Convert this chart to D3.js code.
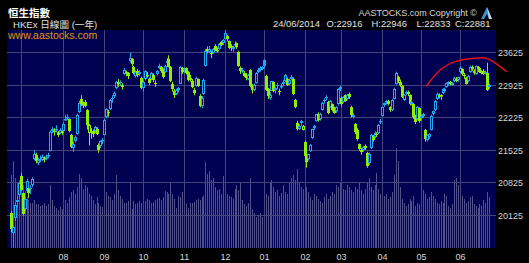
<!DOCTYPE html>
<html>
<head>
<meta charset="utf-8">
<script src="https://cdn.jsdelivr.net/npm/d3@7"></script>
<style>
  html, body { margin: 0; padding: 0; background: #000; }
  svg { display: block; }
  text { font-family: Arial, "Liberation Sans", "Noto Sans CJK TC", sans-serif; }
</style>
</head>
<body>
<svg id="chart" width="529" height="263"></svg>
<script>
// daily candles: [open, high, low, close, turnover (HK$ bn)]
const jun13 = [
  [20160, 20200, 19750, 19813, 83], [19720, 19890, 19426, 19855, 99], [20050, 20390, 19990, 20338, 80],
  [20390, 20520, 20290, 20440, 75], [20560, 20830, 20480, 20803, 78],
];
const jul13 = [
  [20950, 21030, 20640, 20659, 80], [20590, 20600, 20110, 20147, 72], [20250, 20500, 20200, 20468, 65],
  [20640, 20900, 20600, 20855, 58], [20690, 20700, 20490, 20582, 55], [20690, 20760, 20570, 20684, 52],
  [20760, 20930, 20720, 20905, 52], [21320, 21520, 21300, 21437, 55], [21420, 21460, 21230, 21277, 50],
  [21250, 21350, 21190, 21303, 50], [21330, 21400, 21260, 21312, 48], [21300, 21420, 21280, 21372, 49],
  [21330, 21380, 21250, 21345, 52], [21340, 21420, 21300, 21362, 48], [21380, 21460, 21340, 21416, 50],
  [21500, 21940, 21490, 21916, 72], [21930, 22010, 21880, 21968, 55], [21920, 21990, 21830, 21900, 48],
  [21960, 22050, 21900, 21968, 46], [21900, 21930, 21800, 21851, 44], [21890, 21990, 21860, 21953, 47],
  [21920, 21960, 21840, 21883, 45],
];
const aug13 = [
  [21930, 22110, 21900, 22089, 50], [22180, 22280, 22150, 22190, 55], [22200, 22290, 22160, 22222, 52],
  [22180, 22200, 21900, 21923, 58], [21850, 21870, 21560, 21588, 64], [21560, 21700, 21480, 21655, 66],
  [21720, 21830, 21680, 21808, 62], [21860, 22300, 21850, 22271, 70], [22330, 22580, 22310, 22541, 85],
  [22620, 22700, 22470, 22519, 80], [22480, 22560, 22420, 22518, 68], [22560, 22600, 22440, 22463, 72],
  [22380, 22400, 21960, 22050, 70], [21880, 22080, 21620, 22048, 62], [21920, 21990, 21760, 21896, 60],
  [21920, 21960, 21800, 21863, 55], [21920, 22040, 21880, 22005, 50], [21980, 22010, 21840, 21874, 58],
  [21630, 21660, 21460, 21524, 52], [21600, 21730, 21560, 21704, 48], [21730, 21780, 21640, 21731, 47],
];
const sep13 = [
  [21850, 22190, 21840, 22175, 55], [22220, 22420, 22200, 22395, 64], [22330, 22380, 22240, 22326, 60],
  [22400, 22620, 22380, 22597, 58], [22640, 22700, 22540, 22621, 55], [22680, 22780, 22640, 22750, 62],
  [22850, 23010, 22830, 22977, 84], [22990, 23050, 22880, 22938, 66], [22980, 23020, 22900, 22954, 60],
  [22880, 22960, 22820, 22915, 56], [23160, 23290, 23140, 23252, 52], [23200, 23230, 23110, 23180, 52],
  [23180, 23200, 23050, 23117, 54], [23430, 23620, 23400, 23502, 76], [23480, 23500, 23320, 23371, 45],
  [23300, 23330, 23150, 23179, 54], [23120, 23240, 23080, 23209, 50], [23230, 23260, 23090, 23126, 52],
  [23150, 23240, 23110, 23207, 54], [23080, 23100, 22830, 22860, 52],
];
const oct13 = [
  [22850, 23020, 22780, 22984, 55], [23050, 23240, 23020, 23214, 54], [23120, 23200, 23080, 23139, 56],
  [23060, 23080, 22920, 22974, 55], [23050, 23200, 23020, 23178, 52], [23130, 23170, 22980, 23033, 53],
  [22960, 23020, 22880, 22952, 55], [23150, 23240, 23120, 23218, 56], [23290, 23380, 23260, 23336, 57],
  [23300, 23330, 23180, 23228, 55], [23250, 23280, 23060, 23095, 58], [23200, 23360, 23180, 23340, 65],
  [23400, 23500, 23380, 23438, 64], [23480, 23560, 23300, 23315, 62], [23300, 23330, 22980, 22999, 76],
  [22950, 22990, 22780, 22836, 62], [22790, 22830, 22640, 22698, 56], [22730, 22840, 22700, 22806, 46],
  [22820, 22880, 22760, 22846, 60], [22950, 23330, 22940, 23304, 58], [23290, 23310, 23160, 23206, 64],
];
const nov13 = [
  [23260, 23300, 23180, 23250, 48], [23280, 23300, 23150, 23189, 50], [23200, 23220, 23000, 23038, 46],
  [23080, 23140, 22990, 23037, 52], [23010, 23050, 22850, 22881, 51], [22820, 22860, 22700, 22744, 53],
  [22900, 23100, 22880, 23069, 55], [23040, 23060, 22880, 22902, 56], [22680, 22720, 22440, 22463, 55],
  [22470, 22680, 22420, 22649, 58], [22730, 23060, 22710, 23032, 60], [23330, 23700, 23320, 23660, 98],
  [23700, 23750, 23600, 23657, 85], [23640, 23760, 23600, 23700, 88], [23620, 23660, 23500, 23580, 78],
  [23620, 23720, 23590, 23696, 80], [23760, 23800, 23650, 23685, 70], [23680, 23730, 23620, 23681, 66],
  [23700, 23830, 23680, 23806, 68], [23840, 23870, 23760, 23789, 62], [23820, 23910, 23780, 23881, 82],
];
const dec13 = [
  [23920, 24111, 23900, 24038, 70], [23980, 24000, 23860, 23910, 62], [23860, 23880, 23690, 23728, 60],
  [23760, 23800, 23650, 23712, 58], [23690, 23770, 23640, 23743, 56], [23800, 23860, 23760, 23811, 68],
  [23820, 23840, 23700, 23744, 72], [23640, 23660, 23310, 23338, 66], [23280, 23320, 23160, 23218, 76],
  [23200, 23290, 23170, 23245, 55], [23180, 23220, 23090, 23115, 50], [23140, 23180, 23020, 23069, 48],
  [23060, 23160, 23030, 23144, 52], [23250, 23260, 22870, 22888, 80], [22900, 22940, 22740, 22813, 45],
  [22820, 22950, 22790, 22925, 40], [22960, 23200, 22950, 23179, 36], [23200, 23290, 23180, 23244, 38],
  [23280, 23320, 23210, 23244, 40], [23260, 23330, 23240, 23306, 35],
];
const jan14 = [
  [23450, 23470, 23280, 23340, 58], [23120, 23140, 22790, 22817, 62], [22830, 22860, 22620, 22684, 60],
  [22640, 22760, 22600, 22712, 74], [22800, 23010, 22790, 22996, 78], [22980, 23000, 22760, 22787, 70],
  [22820, 22880, 22740, 22846, 64], [22920, 22960, 22830, 22888, 66], [22800, 22840, 22700, 22791, 60],
  [22880, 22950, 22840, 22902, 63], [22950, 23030, 22900, 22987, 72], [23000, 23160, 22980, 23133, 64],
  [23050, 23080, 22900, 22928, 62], [22950, 23060, 22920, 23033, 74], [23060, 23140, 23020, 23083, 80],
  [23050, 23080, 22700, 22733, 84], [22600, 22620, 22420, 22451, 78], [22100, 22150, 21940, 21977, 90],
  [21980, 22080, 21950, 22036, 75], [22100, 22170, 22040, 22141, 70], [21960, 22060, 21940, 22035, 68],
];
const feb14 = [
  [21700, 21720, 21380, 21397, 80], [21420, 21460, 21140, 21269, 70], [21320, 21440, 21290, 21423, 64],
  [21500, 21650, 21480, 21636, 58], [21780, 21980, 21760, 21962, 55], [21990, 22060, 21950, 22036, 62],
  [22150, 22300, 22130, 22285, 60], [22300, 22330, 22130, 22165, 56], [22180, 22320, 22150, 22299, 54],
  [22380, 22560, 22370, 22535, 52], [22600, 22630, 22520, 22587, 58], [22670, 22700, 22590, 22664, 62],
  [22560, 22580, 22290, 22317, 56], [22450, 22600, 22430, 22568, 60], [22500, 22520, 22350, 22389, 64],
  [22420, 22450, 22300, 22317, 62], [22350, 22460, 22320, 22438, 72], [22500, 22850, 22480, 22828, 70],
  [22870, 22900, 22790, 22837, 74],
];
const mar14 = [
  [22650, 22670, 22460, 22500, 78], [22560, 22680, 22540, 22657, 68], [22700, 22720, 22560, 22579, 66],
  [22620, 22730, 22600, 22702, 72], [22720, 22760, 22620, 22660, 70], [22450, 22470, 22220, 22264, 66],
  [22230, 22310, 22200, 22269, 64], [22080, 22100, 21860, 21901, 70], [21940, 21990, 21720, 21756, 68],
  [21640, 21660, 21500, 21540, 74], [21520, 21560, 21420, 21473, 66], [21520, 21600, 21480, 21583, 62],
  [21600, 21640, 21520, 21568, 68], [21460, 21480, 21137, 21182, 76], [21250, 21460, 21200, 21436, 80],
  [21560, 21870, 21540, 21846, 70], [21820, 21840, 21700, 21732, 66], [21800, 21920, 21770, 21887, 72],
  [21860, 21900, 21800, 21834, 86], [21880, 22080, 21860, 22066, 68], [22120, 22190, 22080, 22151, 62],
];
const apr14 = [
  [22260, 22460, 22240, 22448, 64], [22480, 22540, 22450, 22523, 60], [22560, 22600, 22500, 22565, 62],
  [22580, 22600, 22480, 22510, 56], [22440, 22460, 22340, 22377, 58], [22380, 22620, 22360, 22596, 64],
  [22620, 22860, 22610, 22843, 84], [22950, 23210, 22930, 23186, 114], [23100, 23120, 22960, 23003, 100],
  [22980, 23040, 22880, 22928, 70], [22900, 22920, 22640, 22671, 56], [22600, 22720, 22580, 22696, 52],
  [22740, 22800, 22700, 22760, 48], [22780, 22800, 22680, 22730, 50], [22700, 22720, 22480, 22509, 56],
  [22520, 22600, 22480, 22562, 54], [22510, 22530, 22190, 22223, 60], [22250, 22280, 22080, 22132, 48],
  [22180, 22470, 22160, 22453, 52], [22420, 22440, 22110, 22134, 50],
];
const may14 = [
  [22200, 22290, 22150, 22260, 58], [22300, 22320, 22200, 22261, 66], [21950, 21970, 21700, 21747, 62],
  [21740, 21860, 21700, 21837, 56], [21800, 21880, 21760, 21863, 58], [21950, 22280, 21940, 22261, 64],
  [22300, 22370, 22260, 22352, 60], [22380, 22600, 22360, 22583, 56], [22620, 22760, 22600, 22730, 52],
  [22700, 22740, 22630, 22712, 50], [22680, 22720, 22600, 22704, 54], [22740, 22850, 22720, 22834, 52],
  [22800, 22860, 22760, 22837, 62], [22880, 22970, 22860, 22953, 60], [22980, 23000, 22900, 22965, 48],
  [22990, 23010, 22910, 22944, 46], [22930, 22990, 22900, 22963, 50], [23000, 23100, 22980, 23080, 78],
  [23060, 23090, 22980, 23010, 80], [23020, 23100, 22990, 23082, 72],
];
const jun14 = [
  [23200, 23320, 23180, 23291, 66], [23260, 23280, 23120, 23151, 60], [23140, 23180, 23050, 23110, 56],
  [23080, 23100, 22930, 22951, 52], [23000, 23140, 22980, 23118, 54], [23200, 23340, 23180, 23315, 58],
  [23300, 23340, 23220, 23257, 60], [23230, 23260, 23140, 23175, 50], [23160, 23340, 23140, 23320, 48],
  [23280, 23330, 23250, 23300, 46], [23290, 23310, 23180, 23203, 50], [23210, 23240, 23150, 23181, 48],
  [23220, 23260, 23140, 23167, 55], [23180, 23230, 23150, 23194, 52], [23180, 23400, 22790, 22805, 64],
  [22916, 22946, 22833, 22881, 58],
];

const monthLabels = ['06', '07', '08', '09', '10', '11', '12', '01', '02', '03', '04', '05', '06'];
const monthBlocks = [jun13, jul13, aug13, sep13, oct13, nov13, dec13, jan14, feb14, mar14, apr14, may14, jun14];
const priceTicks = [20125, 20825, 21525, 22225, 22925, 23625];
const lastDate = '24/06/2014';

// hand-drawn red arc, in (trading-day index, price)
const redArc = [
  [213.6, 22893], [220.8, 23287], [228.5, 23444], [236.3, 23487],
  [243.2, 23517], [245.7, 23487], [250, 23373], [255, 23207],
];

const W = 529, H = 263;
const plot = { left: 7, right: 496, top: 30, bottom: 248 };
const bg = '#000050';
const upColor = '#22a8f0';
const downColor = '#8cf000';

// flatten
const candles = [];
const monthStarts = [];
monthBlocks.forEach((block, m) => {
  monthStarts.push({ index: candles.length, label: monthLabels[m] });
  block.forEach((d) => {
    candles.push({ i: candles.length, open: d[0], high: d[1], low: d[2], close: d[3], vol: d[4] });
  });
});

const svg = d3.select('#chart');

const x = d3.scaleLinear().domain([0, candles.length - 1]).range([11, 489.2]);
const y = d3.scaleLinear().domain([20125, 23625]).range([214.7, 52.3]);
const yVol = d3.scaleLinear().domain([0, 120]).range([plot.bottom, 143]);

svg.append('rect').attr('width', W).attr('height', H).attr('fill', '#000');

svg.append('defs').append('clipPath').attr('id', 'plot-clip')
  .append('rect')
  .attr('x', plot.left).attr('y', plot.top)
  .attr('width', plot.right - plot.left).attr('height', plot.bottom - plot.top);

svg.append('rect')
  .attr('x', plot.left).attr('y', plot.top)
  .attr('width', plot.right - plot.left).attr('height', plot.bottom - plot.top)
  .attr('fill', bg);

const inner = svg.append('g').attr('clip-path', 'url(#plot-clip)');

// volume
inner.append('g')
  .selectAll('line')
  .data(candles)
  .join('line')
  .attr('x1', (d) => Math.round(x(d.i)) + 0.5)
  .attr('x2', (d) => Math.round(x(d.i)) + 0.5)
  .attr('y1', plot.bottom)
  .attr('y2', (d) => Math.round(yVol(d.vol)))
  .attr('stroke', '#50508c')
  .attr('stroke-width', 1);

// grid
const gridColor = '#45457a';
inner.append('g')
  .selectAll('line')
  .data(priceTicks)
  .join('line')
  .attr('x1', plot.left).attr('x2', plot.right)
  .attr('y1', (d) => Math.round(y(d)) + 0.5)
  .attr('y2', (d) => Math.round(y(d)) + 0.5)
  .attr('stroke', gridColor);

const monthLines = monthStarts.slice(1);
inner.append('g')
  .selectAll('line')
  .data(monthLines)
  .join('line')
  .attr('x1', (d) => Math.round(x(d.index)) + 0.5)
  .attr('x2', (d) => Math.round(x(d.index)) + 0.5)
  .attr('y1', plot.top).attr('y2', plot.bottom)
  .attr('stroke', gridColor);

// candles
const candleG = inner.append('g')
  .selectAll('g')
  .data(candles)
  .join('g');

const colorOf = (d) => {
  const prev = d.i > 0 ? candles[d.i - 1].close : d.open;
  return d.close >= prev ? upColor : downColor;
};

candleG.append('line')
  .attr('x1', (d) => Math.round(x(d.i)) + 0.5)
  .attr('x2', (d) => Math.round(x(d.i)) + 0.5)
  .attr('y1', (d) => y(d.high))
  .attr('y2', (d) => y(d.low))
  .attr('stroke', colorOf);

candleG.append('rect')
  .each(function (d) {
    const cx = Math.round(x(d.i));
    const top = Math.round(y(Math.max(d.open, d.close)));
    const bot = Math.round(y(Math.min(d.open, d.close)));
    const h = Math.max(1, bot - top);
    const sel = d3.select(this);
    if (d.close < d.open) {
      sel.attr('x', cx - 1).attr('y', top).attr('width', 3).attr('height', h)
        .attr('fill', colorOf(d));
    } else {
      sel.attr('x', cx - 0.5).attr('y', top + 0.5).attr('width', 2).attr('height', Math.max(0.5, h - 1))
        .attr('fill', bg).attr('stroke', colorOf(d)).attr('stroke-width', 1);
    }
  });

// red annotation arc
svg.append('path')
  .datum(redArc)
  .attr('d', d3.line().x((d) => x(d[0])).y((d) => y(d[1])).curve(d3.curveBasis))
  .attr('fill', 'none')
  .attr('stroke', '#e8101c')
  .attr('stroke-width', 1.4);

// right price axis
svg.append('g')
  .selectAll('text')
  .data(priceTicks)
  .join('text')
  .attr('x', 498)
  .attr('y', (d) => y(d) + 3.8)
  .attr('font-size', 9)
  .attr('fill', '#d8d8d8')
  .text((d) => d);

// month labels
svg.append('g')
  .selectAll('text')
  .data(monthStarts.slice(2))
  .join('text')
  .attr('x', (d) => Math.round(x(d.index)) + 0.5)
  .attr('y', 259.5)
  .attr('text-anchor', 'middle')
  .attr('font-size', 9)
  .attr('fill', '#d8d8d8')
  .text((d) => d.label);

// header
svg.append('text')
  .attr('x', 8).attr('y', 16.5)
  .attr('font-size', 10.5).attr('font-weight', 'bold')
  .attr('fill', '#fff')
  .text('恒生指數');

svg.append('text')
  .attr('x', 13).attr('y', 27.5)
  .attr('font-size', 9.6)
  .attr('fill', '#e0e0e0')
  .text('HKEx 日線圖 (一年)');

svg.append('text')
  .attr('x', 8).attr('y', 38.5)
  .attr('font-size', 10.5)
  .attr('fill', '#dc9c00')
  .text('www.aastocks.com');

svg.append('text')
  .attr('x', 477).attr('y', 16)
  .attr('text-anchor', 'end')
  .attr('font-size', 9)
  .attr('fill', '#d8d8d8')
  .text('AASTOCKS.com Copyright ©');

// small logo
const logo = svg.append('g').attr('transform', 'translate(480,7)');
logo.append('path')
  .attr('d', 'M1,12 L7,0 L12,12 L9,12 L7,7 L4,12 Z')
  .attr('fill', '#3f8fd0');
logo.append('path')
  .attr('d', 'M7,0 L12,12 L9,12 Z')
  .attr('fill', '#b8dcf5');

const last = candles[candles.length - 1];
const quote = [
  { x: 273, t: lastDate },
  { x: 326.5, t: `O:${last.open}` },
  { x: 371.5, t: `H:${last.high}` },
  { x: 416.5, t: `L:${last.low}` },
  { x: 455, t: `C:${last.close}` },
];
svg.append('g')
  .selectAll('text')
  .data(quote)
  .join('text')
  .attr('x', (d) => d.x)
  .attr('y', 27)
  .attr('font-size', 9.4)
  .attr('fill', '#e0e0e0')
  .text((d) => d.t);
</script>
</body>
</html>
